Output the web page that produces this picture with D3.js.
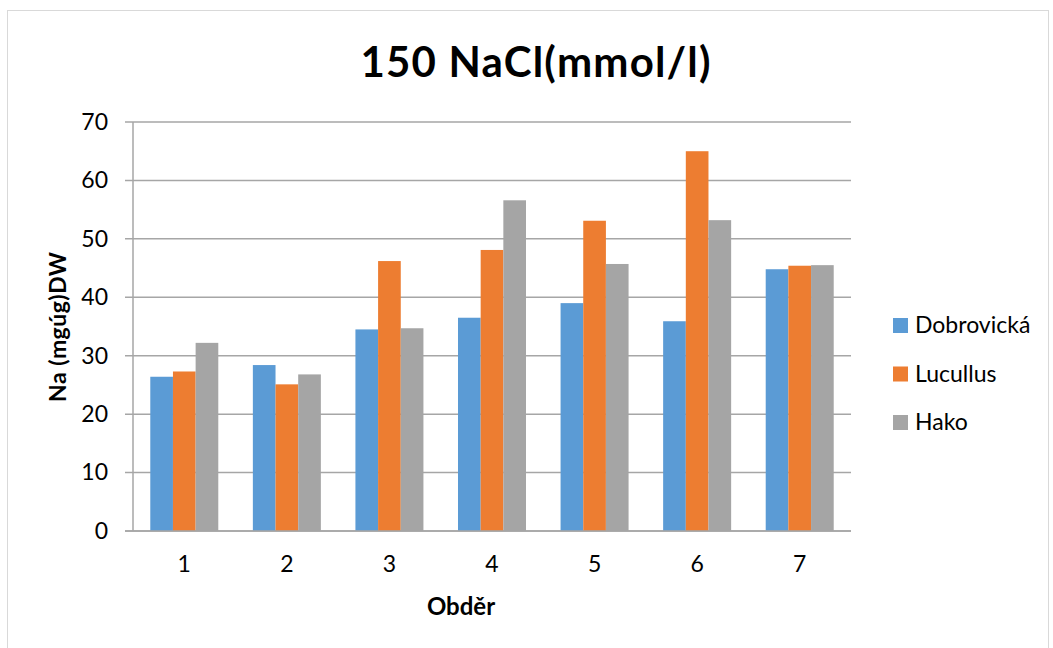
<!DOCTYPE html>
<html>
<head>
<meta charset="utf-8">
<script src="https://cdn.jsdelivr.net/npm/d3@7"></script>
<style>
  body { margin: 0; background: #fff; }
  svg { display: block; font-family: Lato, "Open Sans", sans-serif; }
</style>
</head>
<body>
<div id="chart"></div>
<script>
var categories = ['1', '2', '3', '4', '5', '6', '7'];
var seriesNames = ['Dobrovická', 'Lucullus', 'Hako'];
var dobrovicka = [26.4, 28.4, 34.5, 36.5, 39.0, 35.9, 44.8];
var lucullus = [27.3, 25.1, 46.2, 48.1, 53.1, 65.0, 45.4];
var hako = [32.2, 26.8, 34.7, 56.6, 45.7, 53.2, 45.5];
var yTicks = [0, 10, 20, 30, 40, 50, 60, 70];
var colors = ['#5b9bd5', '#ed7d31', '#a5a5a5'];

var width = 1053, height = 648;
var margin = { top: 122, right: 202, bottom: 117, left: 133 };
var innerWidth = width - margin.left - margin.right,
    innerHeight = height - margin.top - margin.bottom;

var seriesValues = [dobrovicka, lucullus, hako];

var svg = d3.select('#chart').append('svg')
    .attr('width', width)
    .attr('height', height);

// outer chart frame
svg.append('rect')
    .attr('x', 7.5).attr('y', 10.5)
    .attr('width', 1041).attr('height', 660)
    .attr('fill', 'none')
    .attr('stroke', '#d9d9d9')
    .attr('stroke-width', 1);

svg.append('text')
    .attr('x', 535.5).attr('y', 77)
    .attr('text-anchor', 'middle')
    .attr('font-size', 42)
    .attr('font-weight', 'bold')
    .attr('textLength', 350)
    .attr('lengthAdjust', 'spacing')
    .attr('fill', '#000')
    .text('150 NaCl(mmol/l)');

var g = svg.append('g')
    .attr('transform', 'translate(' + margin.left + ',' + margin.top + ')');

var x0 = d3.scaleBand().domain(categories).range([0, innerWidth])
    .paddingInner(0.337).paddingOuter(0.1685);
var x1 = d3.scaleBand().domain(d3.range(seriesNames.length)).range([0, x0.bandwidth()]);
var y = d3.scaleLinear().domain([0, 70]).range([innerHeight, 0]);

// gridlines
g.append('g').selectAll('line').data(yTicks).enter().append('line')
    .attr('x1', -8).attr('x2', innerWidth)
    .attr('y1', function (d) { return y(d); })
    .attr('y2', function (d) { return y(d); })
    .attr('stroke', '#a6a6a6')
    .attr('stroke-width', 1.5);

// y axis line
g.append('line')
    .attr('x1', 0).attr('x2', 0).attr('y1', 0).attr('y2', innerHeight)
    .attr('stroke', '#a6a6a6').attr('stroke-width', 1.5);

var yAxis = g.append('g').call(d3.axisLeft(y).tickValues(yTicks).tickSize(0).tickPadding(25));
yAxis.select('.domain').remove();
yAxis.selectAll('text')
    .attr('font-size', 23)
    .attr('font-family', 'Lato, sans-serif')
    .attr('fill', '#000');

// bars
var groups = g.append('g').selectAll('g').data(categories).enter().append('g')
    .attr('transform', function (d) { return 'translate(' + x0(d) + ',0)'; });

groups.selectAll('rect')
    .data(function (d, i) {
        return seriesValues.map(function (s, k) { return { k: k, value: s[i] }; });
    })
    .enter().append('rect')
    .attr('x', function (d) { return x1(d.k); })
    .attr('y', function (d) { return y(d.value); })
    .attr('width', x1.bandwidth())
    .attr('height', function (d) { return innerHeight - y(d.value); })
    .attr('fill', function (d) { return colors[d.k]; });

// baseline over bars
g.append('line')
    .attr('x1', -8).attr('x2', innerWidth).attr('y1', innerHeight).attr('y2', innerHeight)
    .attr('stroke', '#a6a6a6').attr('stroke-width', 1.5);

var xAxis = g.append('g')
    .attr('transform', 'translate(0,' + innerHeight + ')')
    .call(d3.axisBottom(x0).tickSize(0).tickPadding(25));
xAxis.select('.domain').remove();
xAxis.selectAll('text')
    .attr('font-size', 23)
    .attr('font-family', 'Lato, sans-serif')
    .attr('fill', '#000');

// axis titles
svg.append('text')
    .attr('x', 461).attr('y', 615)
    .attr('text-anchor', 'middle')
    .attr('font-size', 24).attr('font-weight', 'bold')
    .text('Obděr');

svg.append('text')
    .attr('transform', 'translate(66,327) rotate(-90)')
    .attr('text-anchor', 'middle')
    .attr('font-size', 23).attr('font-weight', 'bold')
    .attr('textLength', 150)
    .attr('lengthAdjust', 'spacing')
    .text('Na (mgúg)DW');

// legend
var legend = svg.append('g').selectAll('g').data(seriesNames).enter().append('g')
    .attr('transform', function (d, i) { return 'translate(893,' + (318 + i * 48.5) + ')'; });
legend.append('rect')
    .attr('width', 15).attr('height', 15)
    .attr('fill', function (d, i) { return colors[i]; });
legend.append('text')
    .attr('x', 22).attr('y', 15)
    .attr('font-size', 23)
    .text(function (d) { return d; });
</script>
</body>
</html>
